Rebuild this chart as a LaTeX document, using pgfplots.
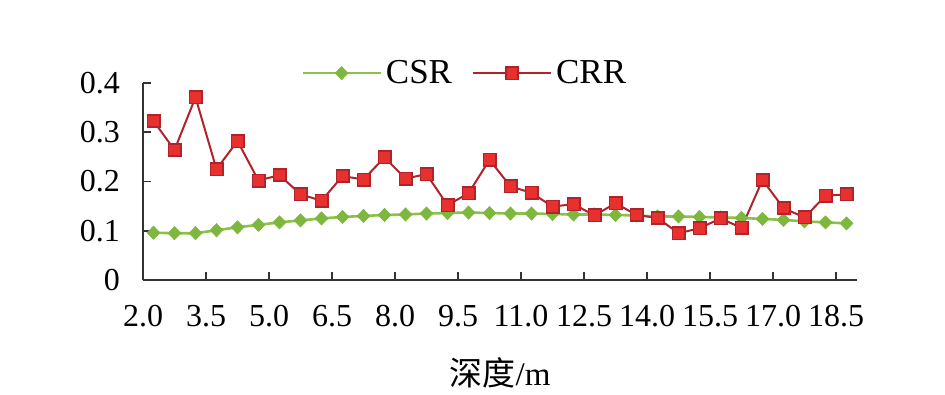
\documentclass[border=0pt]{standalone}
\usepackage{fontspec}
\setmainfont{Liberation Serif}
\newfontfamily\cjk{Noto Sans CJK SC}
\usepackage{pgfplots}
\pgfplotsset{compat=1.18}
\definecolor{csrline}{HTML}{8DC04A}
\definecolor{csrmark}{HTML}{7DB73E}
\definecolor{crrline}{HTML}{B0232A}
\definecolor{crrfill}{HTML}{E8302E}
\definecolor{axcol}{HTML}{333333}
\begin{document}
\begin{tikzpicture}
\path[use as bounding box] (-71.5pt,-57.5pt) rectangle (401pt,140pt);
\begin{axis}[
  at={(0pt,0pt)}, anchor=south west,
  scale only axis,
  width=357pt, height=98.5pt,
  xmin=-0.5, xmax=33.5,
  ymin=0, ymax=0.4,
  axis x line*=bottom, axis y line*=left,
  axis line style={axcol, line width=0.8pt, -},
  xtick={-0.5,2.5,...,32.5},
  xticklabels={2.0,3.5,5.0,6.5,8.0,9.5,11.0,12.5,14.0,15.5,17.0,18.5},
  ytick={0,0.1,0.2,0.3,0.4},
  yticklabels={0,0.1,0.2,0.3,0.4},
  major tick length=4pt,
  tick style={axcol, line width=0.8pt},
  tick label style={font=\fontsize{16}{19}\selectfont},
  /pgf/number format/assume math mode=true,
  xticklabel style={yshift=-9pt},
  yticklabel style={xshift=-8pt},
  xlabel={{\cjk 深度}/m},
  xlabel style={font=\fontsize{16.5}{19}\selectfont, at={(axis description cs:0.5,0)}, anchor=center, yshift=-46.5pt},
  legend style={draw=none, fill=none, at={(0.452,1.05)}, anchor=center,
    legend columns=2, font=\fontsize{17.5}{20}\selectfont,
    /tikz/every even column/.append style={column sep=8pt}},
  legend image code/.code={%
    \draw[mark repeat=2,mark phase=2,#1] plot coordinates {(0pt,0pt) (19.5pt,0pt) (39pt,0pt)};},
  clip=false,
]
\addplot[csrline, line width=1.3pt, mark=diamond*, mark size=3.3pt,
  mark options={xscale=1.3, fill=csrmark, draw=csrmark, line width=0.3pt}]
  coordinates {
(0,0.096) (1,0.095) (2,0.095) (3,0.101) (4,0.107) (5,0.112) (6,0.117) (7,0.121) (8,0.125) (9,0.128)
(10,0.130) (11,0.132) (12,0.133) (13,0.135) (14,0.136) (15,0.137) (16,0.136) (17,0.135) (18,0.135) (19,0.134)
(20,0.133) (21,0.133) (22,0.132) (23,0.131) (24,0.129) (25,0.129) (26,0.128) (27,0.127) (28,0.126) (29,0.124)
(30,0.122) (31,0.119) (32,0.117) (33,0.115)
};
\addlegendentry{CSR}
\addplot[crrline, line width=1pt, mark=square*, mark size=3.1pt,
  mark options={fill=crrfill, draw=crrline, line width=0.8pt}]
  coordinates {
(0,0.323) (1,0.264) (2,0.371) (3,0.225) (4,0.282) (5,0.202) (6,0.213) (7,0.174) (8,0.161) (9,0.211)
(10,0.204) (11,0.249) (12,0.206) (13,0.215) (14,0.152) (15,0.176) (16,0.244) (17,0.190) (18,0.177) (19,0.149)
(20,0.154) (21,0.131) (22,0.156) (23,0.132) (24,0.126) (25,0.095) (26,0.105) (27,0.125) (28,0.106) (29,0.203)
(30,0.146) (31,0.127) (32,0.171) (33,0.174)
};
\addlegendentry{CRR}
\end{axis}
\end{tikzpicture}
\end{document}
